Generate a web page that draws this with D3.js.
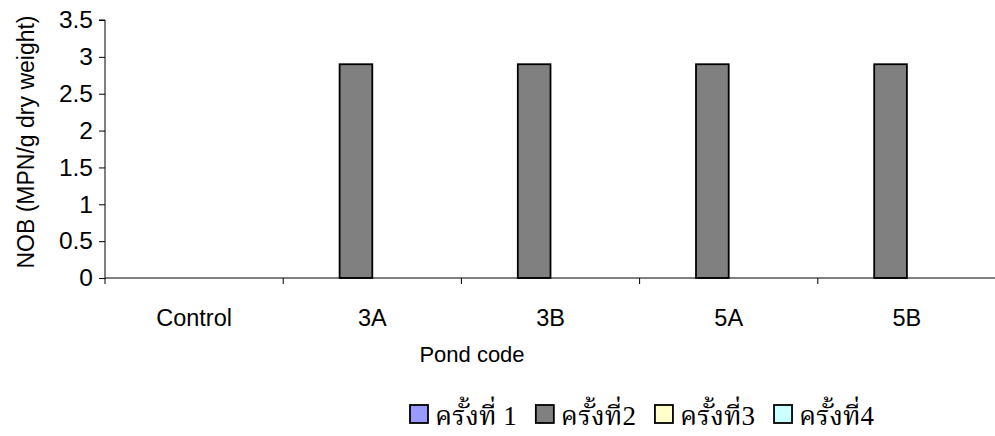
<!DOCTYPE html>
<html>
<head>
<meta charset="utf-8">
<script src="https://cdn.jsdelivr.net/npm/d3@7/dist/d3.min.js"></script>
<style>
  html, body { margin: 0; padding: 0; background: #fff; }
  svg { display: block; }
  .axis-text { font-family: "Liberation Sans", Arial, sans-serif; fill: #000; }
  .legend-text { font-family: "Liberation Serif", "Noto Serif Thai", "Noto Sans Thai", "DejaVu Serif", serif; fill: #000; }
</style>
</head>
<body>
<svg id="chart" width="995" height="436"></svg>
<script>
// Pond codes along the x axis
const categories = ["Control", "3A", "3B", "5A", "5B"];
// Sampling rounds (legend entries)
const seriesNames = ["ครั้งที่ 1", "ครั้งที่2", "ครั้งที่3", "ครั้งที่4"];
const seriesColors = ["#9999FF", "#808080", "#FFFFCC", "#CCFFFF"];
// NOB counts, MPN/g dry weight, per round
const round1 = [0, 0, 0, 0, 0];
const round2 = [0, 2.9, 2.9, 2.9, 2.9];
const round3 = [0, 0, 0, 0, 0];
const round4 = [0, 0, 0, 0, 0];
const yTicks = [0, 0.5, 1, 1.5, 2, 2.5, 3, 3.5];
const yTitle = "NOB (MPN/g dry weight)";
const xTitle = "Pond code";

const seriesValues = [round1, round2, round3, round4];

const svg = d3.select("#chart");
const plot = { left: 105, right: 996, top: 20, bottom: 278 };

const x0 = d3.scaleBand().domain(categories).range([plot.left, plot.right]).padding(0);
const barW = x0.bandwidth() / 5.45;
const gap = x0.bandwidth() - barW * seriesNames.length;
const x1 = d3.scaleBand().domain(d3.range(seriesNames.length))
  .range([gap / 2, x0.bandwidth() - gap / 2]).padding(0);
const y = d3.scaleLinear().domain([0, 3.5]).range([plot.bottom, plot.top]);

// bars
const rows = [];
seriesValues.forEach((vals, s) => {
  vals.forEach((v, i) => rows.push({ s, cat: categories[i], v }));
});
svg.append("g").selectAll("rect").data(rows).join("rect")
  .attr("x", d => x0(d.cat) + x1(d.s))
  .attr("y", d => y(d.v))
  .attr("width", x1.bandwidth())
  .attr("height", d => y(0) - y(d.v))
  .attr("fill", d => seriesColors[d.s])
  .attr("stroke", d => d.v > 0 ? "#000" : "none")
  .attr("stroke-width", 1.8);

// y axis
const yAxis = d3.axisLeft(y).tickValues(yTicks).tickSize(6).tickPadding(6)
  .tickFormat(d => String(d));
const gy = svg.append("g").attr("transform", `translate(${plot.left},0)`).call(yAxis);
gy.attr("font-family", null).attr("font-size", null);
gy.select(".domain").attr("stroke", "#000").attr("stroke-width", 1)
  .attr("d", `M-6,${plot.top}H0V${plot.bottom}`);
gy.selectAll(".tick line").attr("stroke", "#000");
gy.selectAll(".tick text").attr("class", "axis-text").attr("x", -12)
  .style("font-size", "24.5px");

// x axis: ticks at category boundaries
const boundaries = categories.map(c => x0(c)).concat([plot.right]);
const gx = svg.append("g").attr("transform", `translate(0,${plot.bottom})`);
gx.append("line").attr("x1", plot.left).attr("x2", plot.right)
  .attr("y1", 0).attr("y2", 0).attr("stroke", "#000");
gx.selectAll("line.tk").data(boundaries).join("line").attr("class", "tk")
  .attr("x1", d => d).attr("x2", d => d).attr("y1", 0).attr("y2", 6).attr("stroke", "#000");
gx.selectAll("text").data(categories).join("text")
  .attr("class", "axis-text")
  .attr("x", d => x0(d) + x0.bandwidth() / 2)
  .attr("y", 48)
  .attr("text-anchor", "middle")
  .style("font-size", "23.5px")
  .text(d => d);

// axis titles
svg.append("text").attr("class", "axis-text")
  .attr("transform", `translate(34,${142}) rotate(-90)`)
  .attr("text-anchor", "middle").style("font-size", "23px").text(yTitle);
svg.append("text").attr("class", "axis-text")
  .attr("x", 472).attr("y", 362).attr("text-anchor", "middle")
  .style("font-size", "22px").text(xTitle);

// legend
const legend = svg.append("g").attr("transform", "translate(410,405)");
let lx = 0;
seriesNames.forEach((name, i) => {
  const g = legend.append("g").attr("transform", `translate(${lx},0)`);
  g.append("rect").attr("width", 18).attr("height", 18)
    .attr("fill", seriesColors[i]).attr("stroke", "#000").attr("stroke-width", 1.8);
  const t = g.append("text").attr("class", "legend-text")
    .attr("x", 25).attr("y", 20).style("font-size", "27px").text(name);
  lx += 25 + t.node().getComputedTextLength() + 19;
});
</script>
</body>
</html>
